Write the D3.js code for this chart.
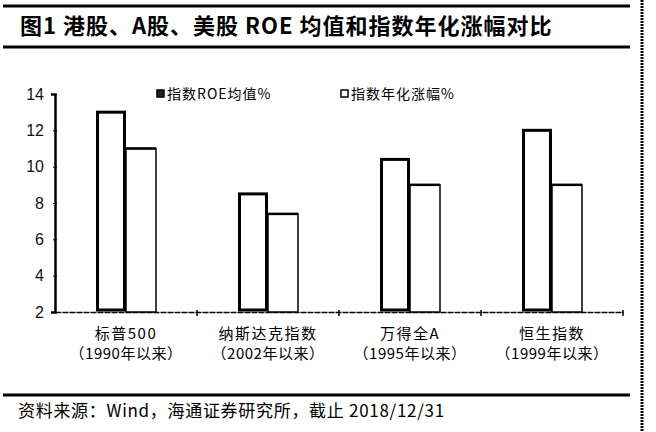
<!DOCTYPE html>
<html>
<head>
<meta charset="utf-8">
<script src="https://cdn.jsdelivr.net/npm/d3@7"></script>
<style>
  body { margin: 0; background: #fff; }
  svg { display: block; font-family: "Liberation Sans", "Noto Sans CJK SC", sans-serif; }
</style>
</head>
<body>
<svg id="chart" width="656" height="432"></svg>
<script>
const categories = ['标普500', '纳斯达克指数', '万得全A', '恒生指数'];
const periods = ['（1990年以来）', '（2002年以来）', '（1995年以来）', '（1999年以来）'];
const series = ['指数ROE均值%', '指数年化涨幅%'];
const roe = [13.0, 8.5, 10.4, 12.0];
const growth = [11.0, 7.4, 9.0, 9.0];
const yTicks = [2, 4, 6, 8, 10, 12, 14];

const svg = d3.select('#chart');

// frame lines
svg.append('line').attr('x1', 3).attr('x2', 630).attr('y1', 6).attr('y2', 6)
  .attr('stroke', '#000').attr('stroke-width', 3);
svg.append('line').attr('x1', 3).attr('x2', 630).attr('y1', 47).attr('y2', 47)
  .attr('stroke', '#000').attr('stroke-width', 3);
svg.append('line').attr('x1', 3).attr('x2', 630).attr('y1', 395).attr('y2', 395)
  .attr('stroke', '#000').attr('stroke-width', 3);
svg.append('line').attr('x1', 642).attr('x2', 642).attr('y1', 0).attr('y2', 432)
  .attr('stroke', '#000').attr('stroke-width', 3).attr('stroke-dasharray', '2,1');

svg.append('text').attr('x', 20).attr('y', 34)
  .style('font-size', '22px').style('font-weight', 'bold')
  .attr('font-family', '"Noto Sans CJK SC", sans-serif')
  .style('letter-spacing', '1px')
  .text('图1  港股、A股、美股 ROE 均值和指数年化涨幅对比');

svg.append('text').attr('x', 18).attr('y', 417)
  .style('font-size', '17px')
  .attr('font-family', '"Noto Sans CJK SC", sans-serif')
  .style('letter-spacing', '0.7px')
  .text('资料来源：Wind，海通证券研究所，截止 2018/12/31');

const x = d3.scaleBand().domain(categories).range([55, 623]).padding(0);
const bw = x.bandwidth();
const x1 = d3.scaleBand().domain(series).range([bw / 2 - 30, bw / 2 + 30]);
const y = d3.scaleLinear().domain([2, 14]).range([312, 94]);

// y axis
const yAxis = svg.append('g').attr('transform', 'translate(55,0)')
  .call(d3.axisLeft(y).tickValues(yTicks).tickSize(4).tickPadding(7));
yAxis.select('.domain').attr('stroke-width', 2.5);
yAxis.selectAll('.tick line').attr('transform', 'translate(2,0)');
yAxis.selectAll('text').style('font-size', '16px').attr('fill', '#111')
  .attr('font-family', '"Liberation Sans", sans-serif');

// x axis
const xAxis = svg.append('g').attr('transform', 'translate(0,312)')
  .call(d3.axisBottom(x).tickValues([]).tickSizeOuter(0));
xAxis.select('.domain').attr('stroke-width', 1.5).attr('stroke-dasharray', '6,1');
svg.append('g').selectAll('line')
  .data(categories.slice(1).concat(['end']))
  .join('line')
  .attr('x1', d => d === 'end' ? 623 : x(d))
  .attr('x2', d => d === 'end' ? 623 : x(d))
  .attr('y1', 310).attr('y2', 316)
  .attr('stroke', '#000').attr('stroke-width', 1.5);

const groups = svg.append('g').selectAll('g')
  .data(categories.map((c, i) => ({c, roe: roe[i], growth: growth[i]})))
  .join('g')
  .attr('transform', d => `translate(${x(d.c)},0)`);

// growth bars (thin outline)
groups.append('rect')
  .attr('x', x1(series[1]))
  .attr('y', d => y(d.growth))
  .attr('width', x1.bandwidth())
  .attr('height', d => y(2) - y(d.growth))
  .attr('fill', '#fff').attr('stroke', '#000').attr('stroke-width', 1.5);
groups.append('line')
  .attr('x1', x1(series[1])).attr('x2', x1(series[1]) + x1.bandwidth())
  .attr('y1', d => y(d.growth)).attr('y2', d => y(d.growth))
  .attr('stroke', '#000').attr('stroke-width', 2.5);

// ROE bars (thick outline)
groups.append('rect')
  .attr('x', x1(series[0]) + 1.5)
  .attr('y', d => y(d.roe))
  .attr('width', x1.bandwidth() - 3)
  .attr('height', d => y(2) - y(d.roe) - 2)
  .attr('fill', '#fff').attr('stroke', '#000').attr('stroke-width', 3);

// category labels
groups.append('text')
  .attr('x', bw / 2).attr('y', 339)
  .attr('text-anchor', 'middle')
  .style('font-size', '15px')
  .style('letter-spacing', '1.5px')
  .attr('font-family', '"Noto Sans CJK SC", sans-serif')
  .text(d => d.c);
groups.append('text')
  .attr('x', bw / 2).attr('y', 359)
  .attr('text-anchor', 'middle')
  .style('font-size', '15px')
  .style('letter-spacing', '0.5px')
  .attr('font-family', '"Noto Sans CJK SC", sans-serif')
  .text((d, i) => periods[i]);

// legend
const legend = svg.append('g').selectAll('g')
  .data(series)
  .join('g')
  .attr('transform', (d, i) => `translate(${i === 0 ? 157 : 341},94)`);
legend.append('rect')
  .attr('x', 0).attr('y', -4).attr('width', 7).attr('height', 7)
  .attr('fill', (d, i) => i === 0 ? '#222' : '#fff')
  .attr('stroke', '#000').attr('stroke-width', 1.5);
legend.append('text')
  .attr('x', 10).attr('y', 5)
  .style('font-size', '14px')
  .style('letter-spacing', '1px')
  .attr('font-family', '"Noto Sans CJK SC", sans-serif')
  .text(d => d);
</script>
</body>
</html>
